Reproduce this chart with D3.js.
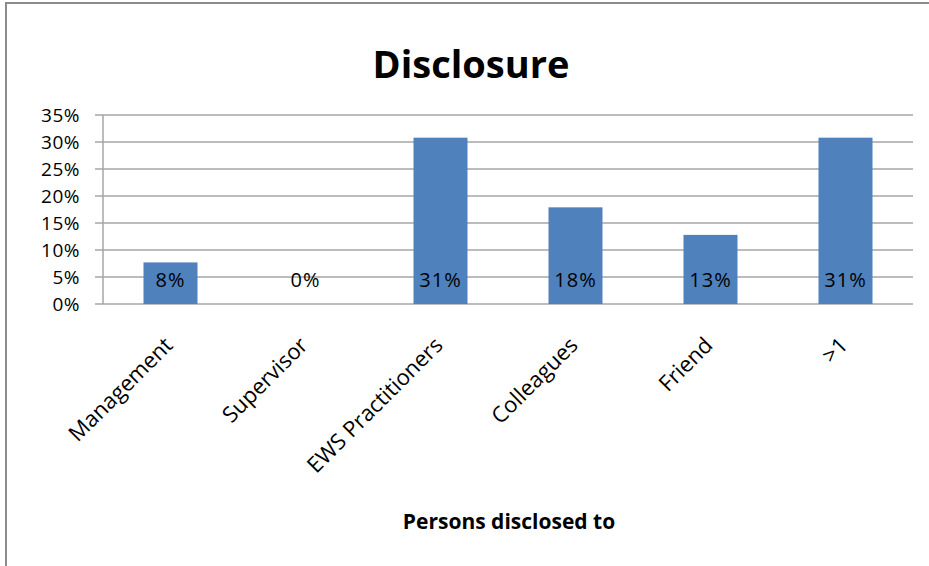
<!DOCTYPE html>
<html>
<head>
<meta charset="utf-8">
<script src="https://cdn.jsdelivr.net/npm/d3@7"></script>
<style>
  body { margin: 0; background: #fff; }
  svg { display: block; font-family: "Open Sans", sans-serif; }
</style>
</head>
<body>
<svg id="chart"></svg>
<script>
const categories = ["Management", "Supervisor", "EWS Practitioners", "Colleagues", "Friend", ">1"];
const values = [7.7, 0, 30.8, 17.9, 12.8, 30.8];
const labels = ["8%", "0%", "31%", "18%", "13%", "31%"];
const yTicks = [0, 5, 10, 15, 20, 25, 30, 35];

const width = 929, height = 566;
const margin = { top: 115, right: 16, bottom: 262, left: 103 };

const svg = d3.select("#chart")
    .attr("width", width)
    .attr("height", height);

// outer frame
svg.append("rect")
    .attr("x", 6).attr("y", 3)
    .attr("width", 1000).attr("height", 1000)
    .attr("fill", "none")
    .attr("stroke", "#8c8c8c")
    .attr("stroke-width", 2);

const x = d3.scaleBand()
    .domain(categories)
    .range([margin.left, width - margin.right])
    .paddingInner(0.6)
    .paddingOuter(0.3);

const y = d3.scaleLinear()
    .domain([0, 35])
    .range([height - margin.bottom, margin.top]);

// gridlines
svg.append("g")
    .selectAll("line")
    .data(yTicks)
    .enter().append("line")
    .attr("x1", margin.left - 8)
    .attr("x2", width - margin.right)
    .attr("y1", d => y(d))
    .attr("y2", d => y(d))
    .attr("stroke", "#a6a6a6")
    .attr("stroke-width", 1.5);

// y axis line
svg.append("line")
    .attr("x1", margin.left).attr("x2", margin.left)
    .attr("y1", y(35)).attr("y2", y(0))
    .attr("stroke", "#a6a6a6")
    .attr("stroke-width", 1.5);

// y tick labels
svg.append("g")
    .selectAll("text")
    .data(yTicks)
    .enter().append("text")
    .attr("x", 80)
    .attr("y", d => y(d))
    .attr("dy", "0.36em")
    .attr("text-anchor", "end")
    .style("font-size", "19px")
    .style("letter-spacing", "0.5px")
    .text(d => d + "%");

// bars
svg.append("g")
    .selectAll("rect")
    .data(categories)
    .enter().append("rect")
    .attr("x", d => x(d))
    .attr("width", x.bandwidth())
    .attr("y", (d, i) => y(values[i]))
    .attr("height", (d, i) => y(0) - y(values[i]))
    .attr("fill", "#4f81bd");

// data labels
svg.append("g")
    .selectAll("text")
    .data(categories)
    .enter().append("text")
    .attr("x", d => x(d) + x.bandwidth() / 2)
    .attr("y", y(0) - 24)
    .attr("dy", "0.36em")
    .attr("text-anchor", "middle")
    .style("font-size", "20px")
    .style("letter-spacing", "1px")
    .text((d, i) => labels[i]);

// category labels
svg.append("g")
    .selectAll("text")
    .data(categories)
    .enter().append("text")
    .attr("transform", d => `translate(${x(d) + x.bandwidth() / 2 - 2},${y(0) + 37}) rotate(-45)`)
    .attr("text-anchor", "end")
    .attr("dy", "0.36em")
    .style("font-size", "22px")
    .text(d => d);

// title
svg.append("text")
    .attr("x", 471)
    .attr("y", 78)
    .attr("text-anchor", "middle")
    .style("font-size", "38px")
    .style("font-weight", "bold")
    .text("Disclosure");

// x axis title
svg.append("text")
    .attr("x", 509)
    .attr("y", 529)
    .attr("text-anchor", "middle")
    .style("font-size", "21px")
    .style("font-weight", "bold")
    .text("Persons disclosed to");
</script>
</body>
</html>
